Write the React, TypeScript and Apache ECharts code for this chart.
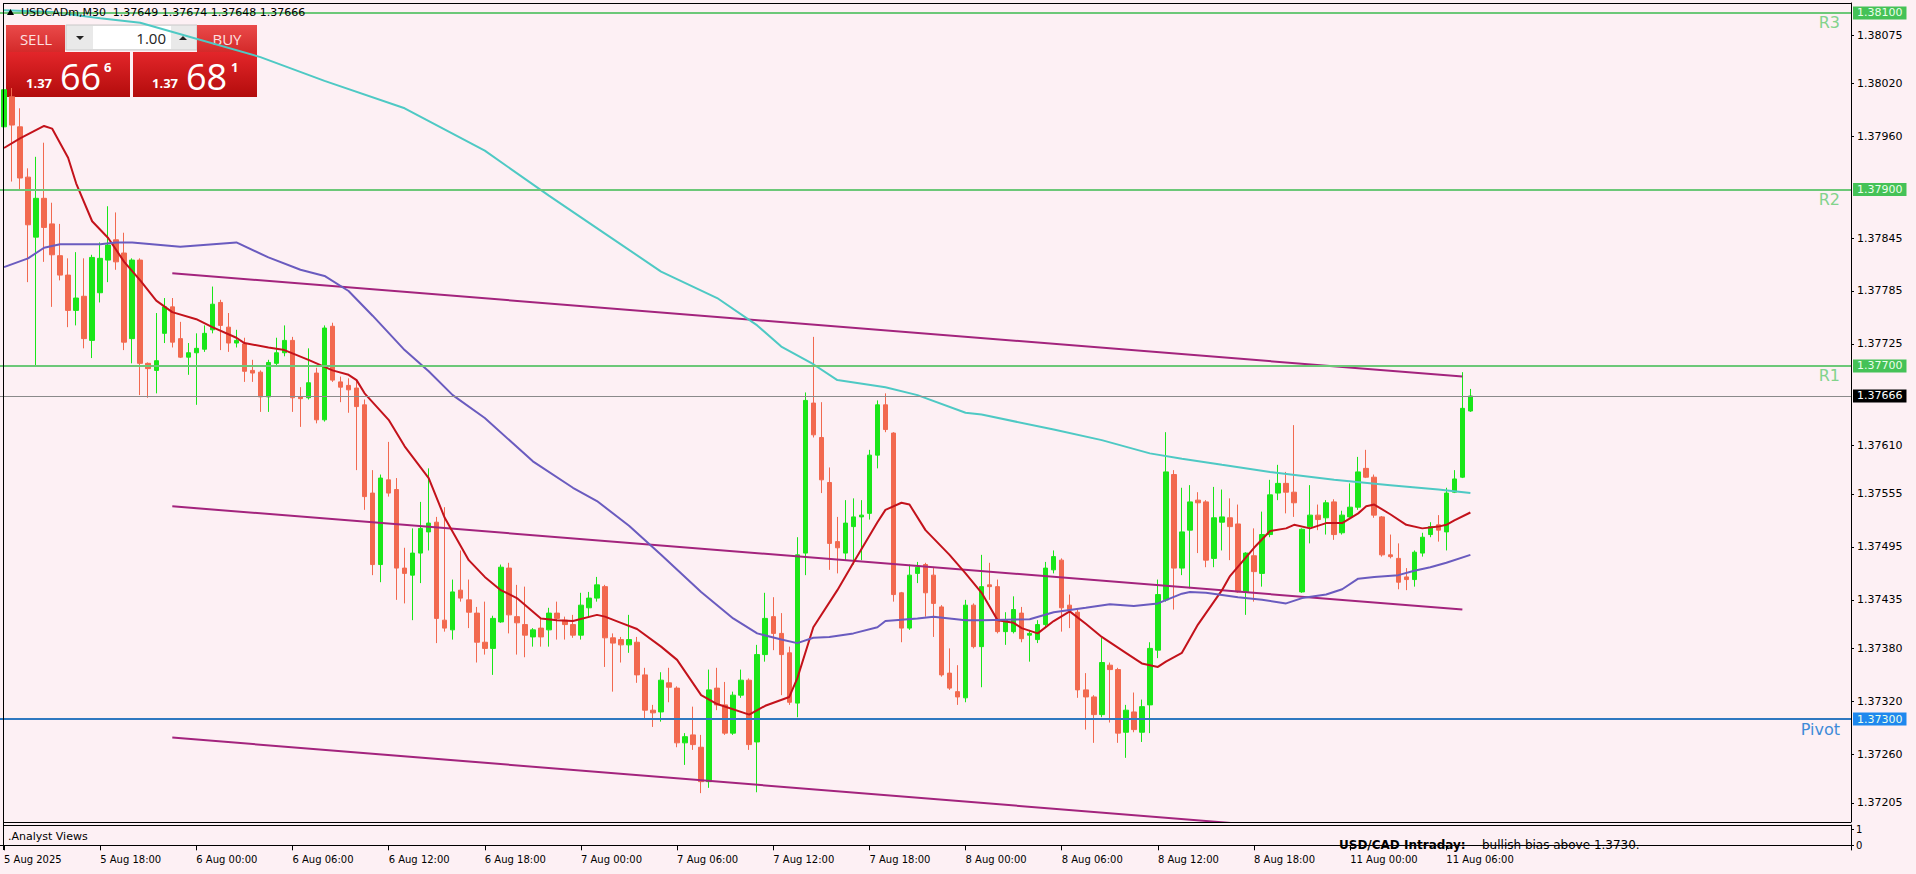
import React, { useEffect, useRef } from 'react';
import * as echarts from 'echarts';

// ---- Candles (M30), 5 Aug 2025 12:00 -> 11 Aug 2025 07:30 ----
const openP = [
1.37971,1.38005,1.37971,1.37914,1.37846,1.37890,1.37861,1.37825,1.37803,1.37763,
1.37779,1.37729,1.37783,1.37820,1.37843,1.37828,1.37731,1.37820,1.37703,1.37695,
1.37737,1.37767,1.37731,1.37710,1.37715,1.37719,1.37741,1.37772,1.37744,1.37726,
1.37725,1.37695,1.37693,1.37665,1.37703,1.37715,1.37729,1.37665,1.37664,1.37692,
1.37639,1.37745,1.37682,1.37678,1.37675,1.37656,1.37556,1.37475,1.37571,1.37560,
1.37471,1.37463,1.37488,1.37512,1.37523,1.37412,1.37401,1.37446,1.37435,1.37420,
1.37387,1.37380,1.37410,1.37471,1.37416,1.37407,1.37393,1.37403,1.37401,1.37420,
1.37412,1.37407,1.37395,1.37426,1.37437,1.37450,1.37392,1.37390,1.37384,1.37387,
1.37350,1.37310,1.37308,1.37341,1.37335,1.37273,1.37282,1.37268,1.37229,1.37335,
1.37316,1.37284,1.37327,1.37344,1.37274,1.37373,1.37416,1.37397,1.37375,1.37318,
1.37488,1.37658,1.37619,1.37568,1.37501,1.37488,1.37518,1.37529,1.37533,1.37599,
1.37656,1.37624,1.37443,1.37403,1.37465,1.37475,1.37463,1.37427,1.37352,1.37331,
1.37324,1.37429,1.37382,1.37452,1.37450,1.37399,1.37399,1.37420,1.37395,1.37390,
1.37407,1.37469,1.37480,1.37429,1.37421,1.37333,1.37325,1.37305,1.37361,1.37356,
1.37285,1.37308,1.37285,1.37316,1.37378,1.37435,1.37577,1.37471,1.37514,1.37548,
1.37546,1.37482,1.37523,1.37528,1.37521,1.37444,1.37485,1.37465,1.37509,1.37556,
1.37567,1.37557,1.37444,1.37518,1.37531,1.37528,1.37546,1.37511,1.37529,1.37540,
1.37584,1.37574,1.37529,1.37486,1.37482,1.37461,1.37458,1.37488,1.37509,1.37520,
1.37512,1.37557,1.37574,1.37649
];
const highP = [
1.38024,1.38015,1.37992,1.37924,1.37937,1.37953,1.37885,1.37861,1.37822,1.37829,
1.37822,1.37826,1.37840,1.37881,1.37874,1.37851,1.37822,1.37822,1.37704,1.37760,
1.37777,1.37777,1.37750,1.37726,1.37737,1.37746,1.37790,1.37775,1.37760,1.37741,
1.37732,1.37707,1.37695,1.37707,1.37732,1.37746,1.37733,1.37676,1.37720,1.37698,
1.37746,1.37749,1.37688,1.37686,1.37684,1.37662,1.37582,1.37577,1.37614,1.37573,
1.37494,1.37516,1.37546,1.37584,1.37529,1.37540,1.37458,1.37491,1.37458,1.37427,
1.37433,1.37417,1.37475,1.37477,1.37452,1.37450,1.37403,1.37414,1.37426,1.37433,
1.37416,1.37418,1.37443,1.37444,1.37461,1.37452,1.37397,1.37393,1.37418,1.37393,
1.37358,1.37316,1.37353,1.37358,1.37337,1.37284,1.37314,1.37282,1.37356,1.37358,
1.37342,1.37331,1.37356,1.37346,1.37384,1.37443,1.37438,1.37420,1.37382,1.37506,
1.37670,1.37733,1.37659,1.37585,1.37529,1.37548,1.37550,1.37548,1.37605,1.37661,
1.37669,1.37625,1.37444,1.37475,1.37478,1.37477,1.37471,1.37429,1.37380,1.37361,
1.37435,1.37431,1.37486,1.37477,1.37458,1.37421,1.37439,1.37427,1.37401,1.37412,
1.37478,1.37491,1.37482,1.37441,1.37424,1.37352,1.37327,1.37392,1.37364,1.37358,
1.37316,1.37330,1.37322,1.37387,1.37458,1.37625,1.37582,1.37562,1.37565,1.37557,
1.37548,1.37563,1.37560,1.37550,1.37543,1.37489,1.37516,1.37535,1.37571,1.37588,
1.37580,1.37633,1.37516,1.37565,1.37543,1.37548,1.37549,1.37536,1.37567,1.37597,
1.37605,1.37577,1.37530,1.37509,1.37499,1.37471,1.37491,1.37511,1.37523,1.37531,
1.37562,1.37582,1.37693,1.37674
];
const lowP = [
1.37967,1.37909,1.37899,1.37795,1.37701,1.37818,1.37767,1.37797,1.37744,1.37746,
1.37720,1.37709,1.37772,1.37795,1.37809,1.37718,1.37703,1.37667,1.37664,1.37669,
1.37726,1.37721,1.37709,1.37690,1.37656,1.37716,1.37737,1.37718,1.37716,1.37721,
1.37682,1.37682,1.37648,1.37648,1.37699,1.37711,1.37648,1.37631,1.37662,1.37635,
1.37637,1.37682,1.37659,1.37647,1.37582,1.37537,1.37463,1.37455,1.37552,1.37435,
1.37431,1.37412,1.37454,1.37491,1.37386,1.37399,1.37390,1.37433,1.37403,1.37364,
1.37373,1.37350,1.37409,1.37397,1.37373,1.37370,1.37382,1.37382,1.37382,1.37390,
1.37390,1.37392,1.37390,1.37416,1.37433,1.37359,1.37331,1.37364,1.37375,1.37341,
1.37301,1.37291,1.37297,1.37319,1.37268,1.37248,1.37265,1.37216,1.37222,1.37310,
1.37282,1.37282,1.37324,1.37265,1.37217,1.37365,1.37378,1.37327,1.37316,1.37302,
1.37463,1.37619,1.37556,1.37469,1.37465,1.37480,1.37475,1.37480,1.37526,1.37584,
1.37625,1.37433,1.37387,1.37401,1.37454,1.37416,1.37393,1.37348,1.37333,1.37316,
1.37319,1.37380,1.37336,1.37435,1.37397,1.37384,1.37397,1.37387,1.37365,1.37386,
1.37404,1.37465,1.37399,1.37403,1.37324,1.37288,1.37273,1.37302,1.37296,1.37273,
1.37256,1.37285,1.37274,1.37284,1.37369,1.37433,1.37424,1.37463,1.37448,1.37488,
1.37472,1.37472,1.37491,1.37480,1.37443,1.37418,1.37433,1.37450,1.37506,1.37548,
1.37533,1.37529,1.37443,1.37499,1.37514,1.37509,1.37503,1.37509,1.37528,1.37537,
1.37573,1.37528,1.37484,1.37482,1.37447,1.37446,1.37450,1.37484,1.37506,1.37501,
1.37491,1.37556,1.37573,1.37648
];
const closeP = [
1.38013,1.37973,1.37913,1.37860,1.37890,1.37857,1.37826,1.37803,1.37763,1.37777,
1.37731,1.37823,1.37822,1.37837,1.37818,1.37727,1.37820,1.37703,1.37697,1.37706,
1.37767,1.37727,1.37710,1.37715,1.37720,1.37737,1.37770,1.37746,1.37726,1.37729,
1.37694,1.37692,1.37665,1.37704,1.37715,1.37729,1.37664,1.37663,1.37681,1.37639,
1.37743,1.37684,1.37676,1.37673,1.37654,1.37552,1.37475,1.37573,1.37556,1.37471,
1.37465,1.37488,1.37516,1.37522,1.37414,1.37403,1.37444,1.37437,1.37421,1.37387,
1.37380,1.37414,1.37472,1.37418,1.37409,1.37395,1.37401,1.37393,1.37420,1.37414,
1.37407,1.37395,1.37429,1.37437,1.37452,1.37392,1.37386,1.37384,1.37390,1.37350,
1.37310,1.37307,1.37344,1.37336,1.37273,1.37280,1.37271,1.37229,1.37333,1.37316,
1.37284,1.37327,1.37344,1.37271,1.37373,1.37414,1.37397,1.37373,1.37319,1.37486,
1.37661,1.37622,1.37571,1.37499,1.37494,1.37522,1.37529,1.37531,1.37599,1.37656,
1.37628,1.37441,1.37403,1.37463,1.37472,1.37443,1.37431,1.37350,1.37335,1.37325,
1.37429,1.37382,1.37450,1.37450,1.37399,1.37412,1.37424,1.37391,1.37397,1.37407,
1.37471,1.37484,1.37426,1.37424,1.37333,1.37325,1.37305,1.37364,1.37356,1.37284,
1.37310,1.37288,1.37314,1.37380,1.37441,1.37580,1.37471,1.37512,1.37546,1.37545,
1.37480,1.37528,1.37529,1.37518,1.37444,1.37488,1.37467,1.37509,1.37554,1.37567,
1.37557,1.37545,1.37515,1.37531,1.37526,1.37545,1.37509,1.37531,1.37540,1.37580,
1.37574,1.37531,1.37486,1.37484,1.37455,1.37458,1.37489,1.37506,1.37518,1.37514,
1.37556,1.37572,1.37652,1.37666
];

// Trading sessions (day label, first bar time, number of M30 bars)
const sessions: [string, string, number][] = [
  ['5 Aug', '12:00', 24], ['6 Aug', '00:00', 48], ['7 Aug', '00:00', 48],
  ['8 Aug', '00:00', 42], ['10 Aug', '21:00', 6], ['11 Aug', '00:00', 16],
];
const FUTURE_SLOTS = 47;

// Moving averages: [bar index, value]
const maFast: [number, number][] = [
[0,1.37947],[2,1.37958],[5,1.37972],[6,1.37969],[8,1.37936],[9,1.37907],[11,1.37864],[13,1.37845],
[15,1.37818],[17,1.37797],[19,1.37774],[21,1.37761],[24,1.37753],[26,1.37744],[29,1.37732],[30,1.37726],
[33,1.37721],[35,1.37718],[38,1.37707],[40,1.37699],[41,1.37695],[43,1.37690],[44,1.37684],[45,1.37669],
[48,1.37639],[50,1.37609],[53,1.37573],[55,1.37528],[58,1.37480],[60,1.37461],[62,1.37446],[64,1.37437],
[67,1.37414],[69,1.37412],[71,1.37411],[74,1.37418],[75,1.37416],[77,1.37409],[79,1.37402],[82,1.37382],
[84,1.37367],[87,1.37327],[89,1.37317],[93,1.37305],[95,1.37315],[98,1.37325],[99,1.37346],[101,1.37404],
[104,1.37446],[106,1.37477],[109,1.37523],[110,1.37537],[112,1.37545],[113,1.37543],[115,1.37514],[118,1.37486],
[120,1.37465],[122,1.37443],[124,1.37412],[126,1.37409],[127,1.37403],[129,1.37397],[131,1.37411],[133,1.37422],
[135,1.37408],[137,1.37393],[140,1.37375],[142,1.37363],[144,1.37359],[145,1.37365],[147,1.37375],[149,1.37407],
[152,1.37446],[153,1.37462],[156,1.37494],[158,1.37513],[160,1.37516],[161,1.37520],[163,1.37516],[165,1.37522],
[167,1.37522],[169,1.37533],[170,1.37541],[171,1.37543],[173,1.37532],[175,1.37520],[177,1.37516],[179,1.37518],
[180,1.37520],[181,1.37525],[183,1.37534]
];
const maMid: [number, number][] = [
[0,1.37812],[3,1.37822],[5,1.37834],[7,1.37838],[12,1.37838],[14,1.37840],[16,1.37840],[22,1.37835],
[29,1.37840],[33,1.37823],[37,1.37809],[40,1.37802],[43,1.37785],[46,1.37757],[50,1.37718],[53,1.37694],
[56,1.37667],[60,1.37641],[66,1.37592],[71,1.37562],[74,1.37547],[78,1.37519],[82,1.37486],[87,1.37444],
[91,1.37414],[94,1.37397],[97,1.37390],[99,1.37386],[101,1.37392],[103,1.37393],[106,1.37397],[109,1.37404],
[110,1.37411],[114,1.37414],[116,1.37416],[120,1.37412],[122,1.37412],[128,1.37413],[131,1.37421],[135,1.37426],
[138,1.37430],[141,1.37428],[144,1.37431],[147,1.37442],[148,1.37444],[150,1.37443],[154,1.37438],[157,1.37435],
[160,1.37431],[162,1.37437],[165,1.37441],[167,1.37447],[169,1.37459],[171,1.37461],[174,1.37463],[176,1.37468],
[178,1.37472],[180,1.37477],[183,1.37486]
];
const maSlow: [number, number][] = [
[0,1.38103],[6,1.38101],[12,1.38094],[17,1.38089],[32,1.38050],[40,1.38023],[50,1.37992],[60,1.37944],
[68,1.37893],[75,1.37850],[82,1.37807],[89,1.37777],[94,1.37746],[97,1.37722],[101,1.37702],[104,1.37684],
[110,1.37676],[114,1.37667],[120,1.37647],[122,1.37645],[131,1.37628],[137,1.37616],[143,1.37601],[147,1.37595],
[152,1.37588],[158,1.37580],[166,1.37571],[173,1.37565],[179,1.37560],[183,1.37556]
];
// Descending channel (three parallel trend lines)
const channelTop: [number, number][] = [[21, 1.37805], [182, 1.37688]];
const channelMid: [number, number][] = [[21, 1.37541], [182, 1.37424]];
const channelLow: [number, number][] = [[21, 1.37279], [182, 1.37161]];

// Levels
const levels = [
  { name: 'R3', value: 1.381, kind: 'res' },
  { name: 'R2', value: 1.379, kind: 'res' },
  { name: 'R1', value: 1.377, kind: 'res' },
  { name: 'Pivot', value: 1.373, kind: 'pivot' },
];
const lastPrice = 1.37666;
const yTickLabels = [1.38075, 1.38020, 1.37960, 1.37845, 1.37785, 1.37725, 1.37610, 1.37555,
  1.37495, 1.37435, 1.37380, 1.37320, 1.37260, 1.37205];

const BG = '#fdf0f4';
const UP = '#19e619';
const DOWN = '#f2694f';
const FONT = 'DejaVu Sans';

function buildCategories(): string[] {
  const out: string[] = [];
  for (const [day, start, n] of sessions) {
    const [h0, m0] = start.split(':').map(Number);
    let mins = h0 * 60 + m0;
    for (let k = 0; k < n; k++) {
      const h = Math.floor(mins / 60), m = mins % 60;
      out.push(`${day} ${String(h).padStart(2, '0')}:${String(m).padStart(2, '0')}`);
      mins += 30;
    }
  }
  for (let k = 0; k < FUTURE_SLOTS; k++) out.push(`f${k}`);
  return out;
}

export default function App() {
  const ref = useRef<HTMLDivElement>(null);
  useEffect(() => {
    document.body.style.margin = '0';
    document.body.style.background = BG;
    const chart = echarts.init(ref.current!, null, { renderer: 'svg' });
    const cats = buildCategories();
    const nBars = openP.length;
    const candles = openP.map((o, i) => [o, closeP[i], lowP[i], highP[i]]);
    const showLbl = (idx: number) => idx % 12 === 0 && idx < nBars;

    const resColor = '#6cc878';
    const mlData: any[] = [];
    levels.forEach((lv) => {
      const col = lv.kind === 'res' ? resColor : '#2e78c0';
      const tagBg = lv.kind === 'res' ? '#45c257' : '#1e88ee';
      const txtCol = lv.kind === 'res' ? '#82d38b' : '#3d8bd8';
      mlData.push({
        yAxis: lv.value,
        lineStyle: { color: col, width: 2, type: 'solid' },
        label: {
          show: true, position: 'end', distance: 2, formatter: lv.value.toFixed(5),
          backgroundColor: tagBg, color: '#eaffea', padding: [1, 4, 1, 4], fontSize: 11, fontFamily: FONT,
        },
      });
      mlData.push({
        yAxis: lv.value,
        lineStyle: { color: col, width: 2, type: 'solid' },
        label: {
          show: true, position: 'insideEndBottom', distance: 1, formatter: lv.name,
          color: txtCol, fontSize: 16, fontFamily: FONT, padding: [1, 10, 0, 0],
        },
      });
    });
    mlData.push({
      yAxis: lastPrice,
      lineStyle: { color: '#8a8a8a', width: 1, type: 'solid' },
      label: {
        show: true, position: 'end', distance: 2, formatter: lastPrice.toFixed(5),
        backgroundColor: '#000', color: '#fff', padding: [1, 4, 1, 4], fontSize: 11, fontFamily: FONT,
      },
    });

    const redGrad = () => new echarts.graphic.LinearGradient(0, 0, 0, 1, [
      { offset: 0, color: '#e3262a' }, { offset: 1, color: '#b30c0c' }]);
    const btnGrad = () => new echarts.graphic.LinearGradient(0, 0, 0, 1, [
      { offset: 0, color: '#ea4a4a' }, { offset: 1, color: '#d42a2a' }]);

    const panel = {
      type: 'group', z: 100, children: [
        { type: 'rect', shape: { x: 6, y: 25, width: 59, height: 27 }, style: { fill: btnGrad() } },
        { type: 'text', style: { text: 'SELL', x: 36, y: 39, align: 'center', verticalAlign: 'middle', fill: '#fde0e0', fontSize: 15, fontFamily: 'Open Sans' } },
        { type: 'rect', shape: { x: 66, y: 25, width: 131, height: 25 }, style: { fill: '#e9e9e9', stroke: '#c9c9c9' } },
        { type: 'rect', shape: { x: 93, y: 26, width: 78, height: 23 }, style: { fill: '#ffffff' } },
        { type: 'polygon', shape: { points: [[76, 36], [84, 36], [80, 40]] }, style: { fill: '#222' } },
        { type: 'polygon', shape: { points: [[179, 40], [187, 40], [183, 36]] }, style: { fill: '#222' } },
        { type: 'text', style: { text: '1.00', x: 166, y: 38, align: 'right', verticalAlign: 'middle', fill: '#222', fontSize: 15, fontFamily: 'Open Sans' } },
        { type: 'rect', shape: { x: 197, y: 25, width: 60, height: 27 }, style: { fill: btnGrad() } },
        { type: 'text', style: { text: 'BUY', x: 227, y: 39, align: 'center', verticalAlign: 'middle', fill: '#fde0e0', fontSize: 15, fontFamily: 'Open Sans' } },
        { type: 'rect', shape: { x: 6, y: 52, width: 124, height: 45 }, style: { fill: redGrad() } },
        { type: 'rect', shape: { x: 133, y: 52, width: 124, height: 45 }, style: { fill: redGrad() } },
        { type: 'text', style: { text: '1.37', x: 26, y: 89, verticalAlign: 'bottom', fill: '#fff', fontSize: 13, fontWeight: 'bold', fontFamily: 'Open Sans' } },
        { type: 'text', style: { text: '66', x: 60, y: 94, verticalAlign: 'bottom', fill: '#fff', fontSize: 36, fontFamily: 'Open Sans' } },
        { type: 'text', style: { text: '6', x: 104, y: 73, verticalAlign: 'bottom', fill: '#fff', fontSize: 13, fontWeight: 'bold', fontFamily: 'Open Sans' } },
        { type: 'text', style: { text: '1.37', x: 152, y: 89, verticalAlign: 'bottom', fill: '#fff', fontSize: 13, fontWeight: 'bold', fontFamily: 'Open Sans' } },
        { type: 'text', style: { text: '68', x: 186, y: 94, verticalAlign: 'bottom', fill: '#fff', fontSize: 36, fontFamily: 'Open Sans' } },
        { type: 'text', style: { text: '1', x: 231, y: 73, verticalAlign: 'bottom', fill: '#fff', fontSize: 13, fontWeight: 'bold', fontFamily: 'Open Sans' } },
      ],
    };

    const option: any = {
      animation: false,
      backgroundColor: BG,
      grid: [
        { left: 0, right: 65, top: 3, height: 819 },
        { left: 0, right: 65, top: 825, height: 25 },
      ],
      xAxis: [
        { type: 'category', data: cats, gridIndex: 0, boundaryGap: true,
          axisLine: { show: false }, axisTick: { show: false }, axisLabel: { show: false }, splitLine: { show: false } },
        { type: 'category', data: cats, gridIndex: 1, boundaryGap: true,
          axisLine: { show: true, lineStyle: { color: '#000', width: 1 } },
          axisTick: { show: true, alignWithLabel: true, interval: (i: number) => showLbl(i), length: 5, lineStyle: { color: '#000' } },
          axisLabel: { show: true, interval: (i: number) => showLbl(i), align: 'left', margin: 4, fontSize: 10,
            color: '#000', fontFamily: FONT, hideOverlap: false,
            formatter: (v: string, i: number) => (i === 0 ? '5 Aug 2025' : v) },
          splitLine: { show: false } },
      ],
      yAxis: [
        { type: 'value', gridIndex: 0, position: 'right', min: 1.371833, max: 1.381113, scale: true,
          splitLine: { show: false },
          axisLine: { show: true, lineStyle: { color: '#000', width: 1 } },
          axisTick: { show: true, length: 3, customValues: yTickLabels, lineStyle: { color: '#000' } },
          axisLabel: { show: true, customValues: yTickLabels, margin: 6, fontSize: 11, color: '#000', fontFamily: FONT,
            formatter: (v: number) => v.toFixed(5) } },
        { type: 'value', gridIndex: 1, position: 'right', min: -0.3, max: 1.3,
          splitLine: { show: false },
          axisLine: { show: true, lineStyle: { color: '#000', width: 1 } },
          axisTick: { show: true, length: 3, customValues: [0, 1], lineStyle: { color: '#000' } },
          axisLabel: { show: true, customValues: [0, 1], margin: 5, fontSize: 10, color: '#000', fontFamily: FONT } },
      ],
      series: [
        { type: 'candlestick', xAxisIndex: 0, yAxisIndex: 0, data: candles, barWidth: 5, z: 2,
          itemStyle: { color: UP, color0: DOWN, borderColor: UP, borderColor0: DOWN, borderWidth: 1 },
          markLine: { symbol: 'none', silent: true, precision: 5, data: mlData } },
        { type: 'line', name: 'MA fast', data: maFast, showSymbol: false, symbol: 'none', z: 4,
          lineStyle: { color: '#c3121b', width: 2 } },
        { type: 'line', name: 'MA mid', data: maMid, showSymbol: false, symbol: 'none', z: 4,
          lineStyle: { color: '#6a5bbf', width: 2 } },
        { type: 'line', name: 'MA slow', data: maSlow, showSymbol: false, symbol: 'none', z: 4,
          lineStyle: { color: '#4ec9c4', width: 2 } },
        ...[channelTop, channelMid, channelLow].map((d) => ({
          type: 'line', data: d, showSymbol: false, symbol: 'none', z: 3, clip: true,
          lineStyle: { color: '#a3237d', width: 2 } })),
      ],
      graphic: [
        { type: 'line', z: 50, shape: { x1: 3.5, y1: 3, x2: 3.5, y2: 850 }, style: { stroke: '#000', lineWidth: 1 } },
        { type: 'line', z: 50, shape: { x1: 3, y1: 3.5, x2: 1851, y2: 3.5 }, style: { stroke: '#000', lineWidth: 1 } },
        { type: 'line', z: 50, shape: { x1: 3, y1: 822.5, x2: 1851, y2: 822.5 }, style: { stroke: '#000', lineWidth: 1 } },
        { type: 'line', z: 50, shape: { x1: 3, y1: 825.5, x2: 1851, y2: 825.5 }, style: { stroke: '#000', lineWidth: 1 } },
        { type: 'rect', z: 49, shape: { x: 0, y: 823, width: 1851, height: 2 }, style: { fill: BG } },
        { type: 'polygon', z: 60, shape: { points: [[7, 15], [14, 15], [10.5, 9]] }, style: { fill: '#000' } },
        { type: 'text', z: 60, style: { text: 'USDCADm,M30  1.37649 1.37674 1.37648 1.37666', x: 21, y: 12,
          verticalAlign: 'middle', fill: '#000', fontSize: 11, fontFamily: FONT } },
        { type: 'text', z: 60, style: { text: '.Analyst Views', x: 8, y: 836, verticalAlign: 'middle', fill: '#000', fontSize: 11, fontFamily: FONT } },
        { type: 'text', z: 60, style: { text: 'USD/CAD Intraday:', x: 1339, y: 845, verticalAlign: 'middle', fill: '#000', fontSize: 12, fontWeight: 'bold', fontFamily: FONT } },
        { type: 'text', z: 60, style: { text: 'bullish bias above 1.3730.', x: 1482, y: 845, verticalAlign: 'middle', fill: '#000', fontSize: 12, fontFamily: FONT } },
        panel,
      ],
    };
    chart.setOption(option);
    return () => chart.dispose();
  }, []);
  return <div ref={ref} style={{ width: 1916, height: 874 }} />;
}
